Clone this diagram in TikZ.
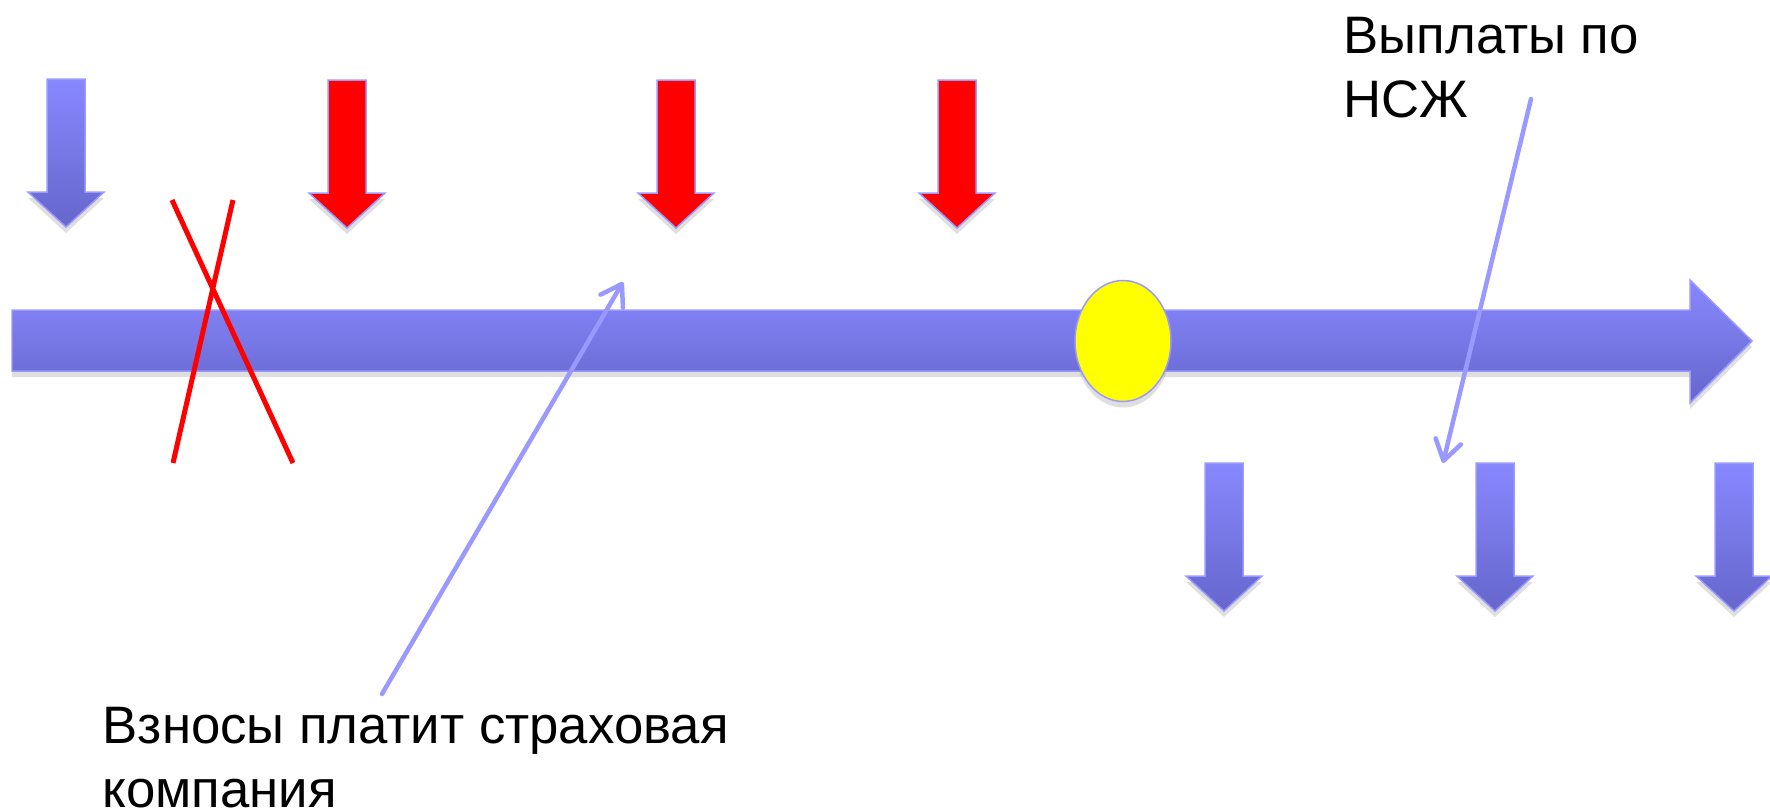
\documentclass[tikz,border=0pt]{standalone}
\usepackage{fontspec}
\setmainfont{Liberation Sans}
\usetikzlibrary{arrows.meta,shapes.geometric,shadows}

\definecolor{bluetop}{RGB}{136,136,255}
\definecolor{bluebot}{RGB}{102,102,204}
\definecolor{rim}{RGB}{153,153,255}
\definecolor{sun}{RGB}{255,255,0}

\tikzset{
  softshadow/.style={drop shadow={opacity=0.25,shadow xshift=0mm,shadow yshift=-0.6mm}},
  paybox/.style={draw=rim,line width=0.15mm,top color=bluetop,bottom color=bluebot,softshadow},
  feebox/.style={draw=rim,line width=0.15mm,fill=red,softshadow},
  event/.style={ellipse,draw=rim,line width=0.15mm,fill=sun,minimum width=9.6mm,minimum height=12.1mm,inner sep=0pt,softshadow},
  crossout/.style={red,line width=0.5mm},
  pointer/.style={draw=rim,line width=0.45mm,line cap=round,-{Straight Barb[length=2mm,width=2.6mm,round]}},
  caption/.style={font=\fontsize{15}{18.2}\selectfont,align=left,inner sep=0pt}
}

\begin{document}
\begin{tikzpicture}[x=0.1mm,y=-0.1mm]
        \useasboundingbox (0,0) rectangle (1770,810);
        \def\shaft{19}
        \def\head{38}
        \def\body{113}
        \def\len{148}

        % time line
        \shadedraw[paybox] (12,310) -- (1690,310) -- (1690,280) -- (1752,341)
          -- (1690,403) -- (1690,371) -- (12,371) -- cycle;
        \node[event] (death) at (1123,341) {};

        % premiums and payments
        \foreach \x/\y/\kind in {66/79/paybox,347/80/feebox,676/80/feebox,957/80/feebox,
                                 1224/463/paybox,1495/463/paybox,1734/463/paybox} {
          \draw[\kind] (\x-\shaft,\y) -- (\x+\shaft,\y) -- (\x+\shaft,\y+\body)
            -- (\x+\head,\y+\body) -- (\x,\y+\len) -- (\x-\head,\y+\body)
            -- (\x-\shaft,\y+\body) -- cycle;
        }

        \draw[crossout] (172,200) -- (293,463);
        \draw[crossout] (233,200) -- (173,463);

        % base of a two-line caption is its last line
        \node[caption,anchor=base west] (vznosy) at (102,807) {Взносы платит страховая\\компания};
        \node[caption,anchor=base west] (vyplaty) at (1343,117) {Выплаты по\\НСЖ};

        \coordinate (vznosy tail) at (382,694);
        \coordinate (vznosy tip) at (623,282);
        \coordinate (vyplaty tail) at (1531,99);
        \coordinate (vyplaty tip) at (1443,463);
        \draw[pointer] (vznosy tail) -- (vznosy tip);
        \draw[pointer] (vyplaty tail) -- (vyplaty tip);
      \end{tikzpicture}
\end{document}
